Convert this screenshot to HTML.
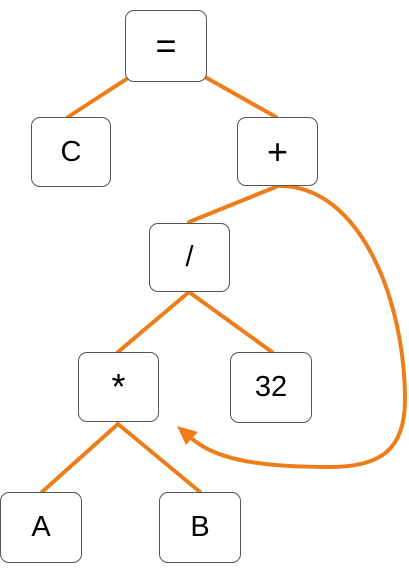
<!DOCTYPE html>
<html><head><style>
body{margin:0;width:409px;height:572px;background:#fff;position:relative;overflow:hidden;font-family:"Liberation Sans",sans-serif}
.n{position:absolute;box-sizing:border-box;border:1.3px solid #555;border-radius:9px;background:#fff;display:flex;align-items:center;justify-content:center;font-size:29px;color:#000}
.s{font-size:36px}
svg{position:absolute;left:0;top:0}
</style></head><body>
<svg width="409" height="572">
<g stroke="#ed7d1a" stroke-width="4" fill="none" stroke-linecap="round">
<line x1="128" y1="78" x2="68" y2="117"/>
<line x1="205" y1="77" x2="276" y2="117"/>
<line x1="278" y1="186" x2="189" y2="222"/>
<line x1="189" y1="292" x2="118" y2="352"/>
<line x1="189" y1="292" x2="272" y2="352"/>
<line x1="118" y1="424" x2="42" y2="492"/>
<line x1="118" y1="424" x2="200" y2="492"/>
<path d="M280,186 C360,186 405,300 405,400 C405,450 380,467 330,467 C260,467 215,460 190,437"/>
</g>
<polygon points="177,426 198,432 186,445" fill="#ed7d1a"/>
</svg>
<div class="n s" style="left:125px;top:10px;width:82px;height:72px">=</div>
<div class="n" style="left:31px;top:117px;width:80px;height:70px">C</div>
<div class="n s" style="left:237px;top:117px;width:81px;height:69px">+</div>
<div class="n" style="left:149px;top:223px;width:81px;height:69px">/</div>
<div class="n s" style="left:78px;top:352px;width:81px;height:70px">*</div>
<div class="n" style="left:230px;top:352px;width:82px;height:71px">32</div>
<div class="n" style="left:0px;top:492px;width:82px;height:71px">A</div>
<div class="n" style="left:159px;top:492px;width:82px;height:71px">B</div>
</body></html>
